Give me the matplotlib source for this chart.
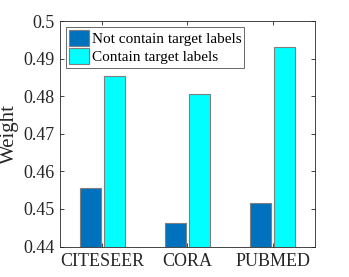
import matplotlib
matplotlib.use("Agg")
import matplotlib.pyplot as plt
import numpy as np

datasets = ["CITESEER", "CORA", "PUBMED"]
not_contain = [0.4556, 0.4463, 0.4517]
contain = [0.4854, 0.4806, 0.4932]
series_names = ["Not contain target labels", "Contain target labels"]

plt.rcParams['font.family'] = ['Liberation Serif', 'DejaVu Serif']

fig = plt.figure(figsize=(3.49, 2.77), dpi=100)
ax = fig.add_axes([0.171, 0.11, 0.732, 0.814])

x = np.arange(1, len(datasets) + 1)
w = 0.25
ax.bar(x - 0.142, not_contain, w, color='#0072BD', edgecolor='#7f7f7f', linewidth=0.8,
       label=series_names[0])
ax.bar(x + 0.142, contain, w, color='#00FFFF', edgecolor='#7f7f7f', linewidth=0.8,
       label=series_names[1])

ax.set_xlim(0.5, 3.5)
ax.set_ylim(0.44, 0.5)
ax.set_xticks(x)
ax.set_xticklabels(datasets)
ax.set_yticks(np.arange(0.44, 0.501, 0.01))
ax.set_yticklabels(["0.44", "0.45", "0.46", "0.47", "0.48", "0.49", "0.5"])
ax.tick_params(direction='in', top=True, right=True, labelsize=13, colors='#262626',
               length=3, width=0.6)
ax.tick_params(axis='x', pad=5)
for s in ax.spines.values():
    s.set_color('#262626')
    s.set_linewidth(0.6)
ax.set_ylabel("Weight", fontsize=15, color='#262626', labelpad=3)

leg = ax.legend(loc='upper left', fontsize=11, frameon=True, fancybox=False,
                edgecolor='#262626', borderpad=0.2, handlelength=1.3, handleheight=1.25,
                handletextpad=0.2, labelspacing=0.12, borderaxespad=0.4)
leg.get_frame().set_linewidth(0.6)

fig.savefig("out.png", dpi=100)
